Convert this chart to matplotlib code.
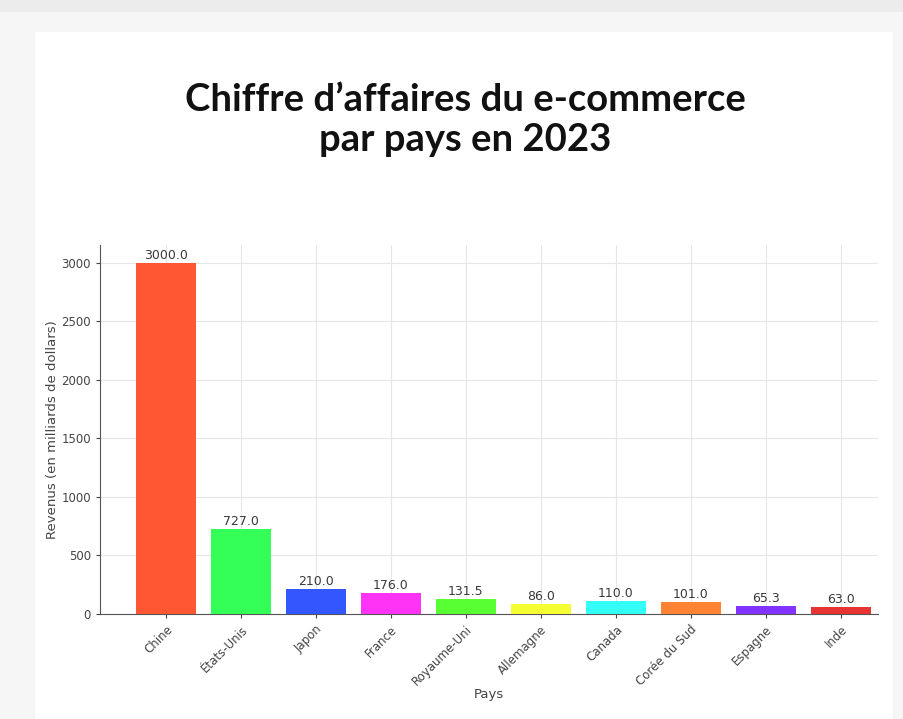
import numpy as np
import matplotlib.pyplot as plt
from matplotlib.patches import Rectangle

# Chiffre d'affaires e-commerce 2023 (milliards de dollars)
pays = ['Chine', 'États-Unis', 'Japon', 'France', 'Royaume-Uni',
        'Allemagne', 'Canada', 'Corée du Sud', 'Espagne', 'Inde']
revenus = [3000.0, 727.0, 210.0, 176.0, 131.5, 86.0, 110.0, 101.0, 65.3, 63.0]
couleurs = ['#FF5733', '#33FF57', '#3357FF', '#FF33F6', '#57FF33',
            '#F6FF33', '#33FFF6', '#FF8333', '#8333FF', '#E83333']

W, H = 904, 719
fig = plt.figure(figsize=(W / 100, H / 100), dpi=100, facecolor='#f6f6f6')

# fond de page + carte blanche
fig.patches.append(Rectangle((0, 1 - 12 / H), 1, 12 / H, transform=fig.transFigure,
                             facecolor='#ececec', edgecolor='none', zorder=-10))
fig.patches.append(Rectangle((35 / W, 0), (893 - 35) / W, (H - 32) / H,
                             transform=fig.transFigure, facecolor='white',
                             edgecolor='none', zorder=-10))

fig.text(465 / W, 1 - 120 / H, 'Chiffre d\u2019affaires du e-commerce\npar pays en 2023',
         ha='center', va='center', fontsize=27.5, fontweight='bold',
         family='Lato', color='#111111', linespacing=1.2)

ax = fig.add_axes([100 / W, 1 - 614 / H, (878 - 100) / W, (614 - 245) / H])
ax.set_facecolor('white')

x = np.arange(len(pays))
bars = ax.bar(x, revenus, width=0.8, color=couleurs, zorder=3)
for b, v in zip(bars, revenus):
    ax.text(b.get_x() + b.get_width() / 2, v + 8, f'{v:.1f}', ha='center',
            va='bottom', fontsize=9, color='#3a3a3a', zorder=4)

ax.set_xlim(-0.88, 9.5)
ax.set_ylim(0, 3150)
ax.set_xticks(x)
ax.set_xticklabels(pays, rotation=45, ha='right', rotation_mode='anchor')
ax.tick_params(axis='both', labelsize=8.5, colors='#444444', length=3)
ax.set_xlabel('Pays', fontsize=9.5, color='#444444', labelpad=0)
ax.set_ylabel('Revenus (en milliards de dollars)', fontsize=9.5, color='#444444',
              labelpad=2)
ax.grid(True, color='#e6e6e6', linewidth=0.8, zorder=0)
for s in ['top', 'right']:
    ax.spines[s].set_visible(False)
for s in ['left', 'bottom']:
    ax.spines[s].set_color('#555555')

fig.savefig('out.png', dpi=100, facecolor=fig.get_facecolor())
